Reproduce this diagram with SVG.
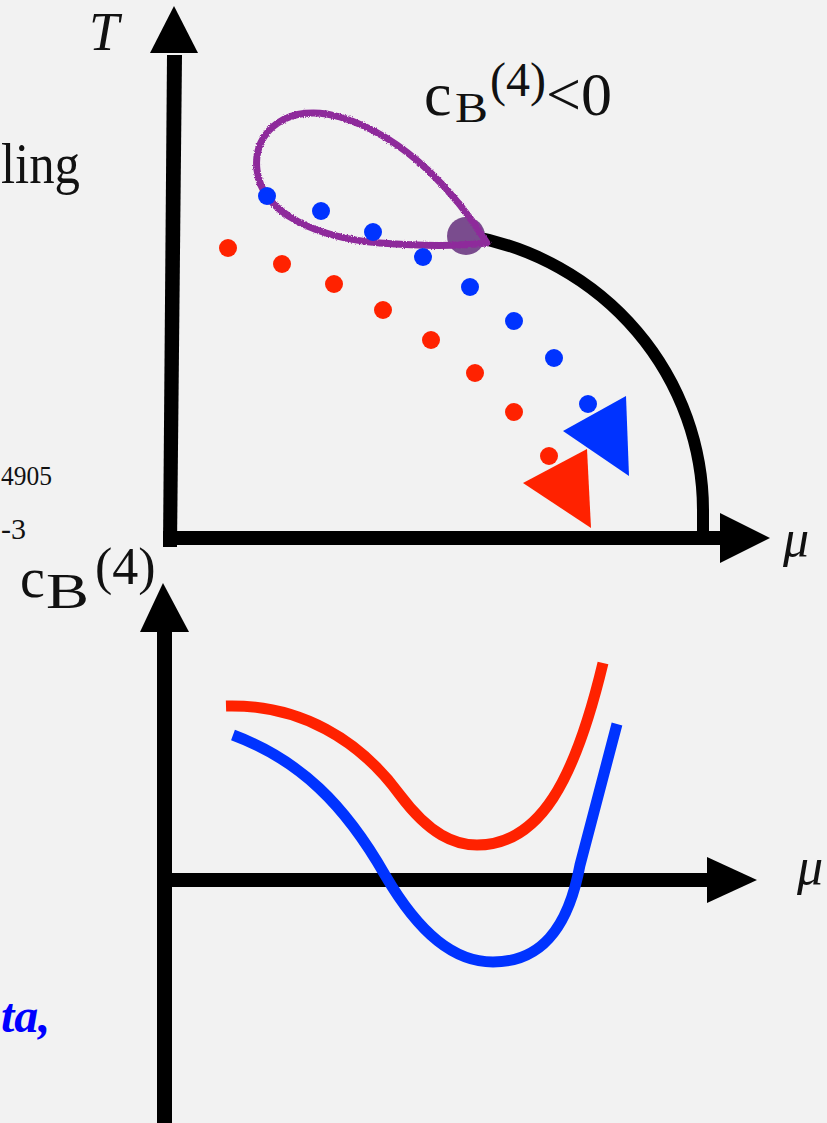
<svg xmlns="http://www.w3.org/2000/svg" width="827" height="1123" viewBox="0 0 827 1123">
  <defs>
    <style>
      .ax { fill: #000; }
      .serif { font-family: "Liberation Serif", "Times New Roman", serif; fill: #111; }
      .it { font-style: italic; }
      .red { fill: #ff2200; }
      .blue { fill: #0033ff; }
      .rc { fill: none; stroke: #ff2200; stroke-width: 11; }
      .bc { fill: none; stroke: #0033ff; stroke-width: 11; }
    </style>
    <filter id="rough" x="-10%" y="-10%" width="120%" height="120%">
      <feTurbulence type="fractalNoise" baseFrequency="0.9" numOctaves="2" seed="3" result="n"/>
      <feDisplacementMap in="SourceGraphic" in2="n" scale="3" xChannelSelector="R" yChannelSelector="G"/>
    </filter>
  </defs>
  <rect x="0" y="0" width="827" height="1123" fill="#f2f2f2"/>

  <!-- left cut-off texts -->
  <g id="left-texts" class="serif">
    <text x="1" y="183" font-size="58" textLength="79" lengthAdjust="spacingAndGlyphs">ling</text>
    <text x="1" y="485" font-size="27" textLength="51" lengthAdjust="spacingAndGlyphs">4905</text>
    <text x="1" y="539" font-size="30">-3</text>
    <text x="1" y="1032" font-size="48" font-weight="bold" font-style="italic" style="fill:#0000ff">ta,</text>
  </g>

  <!-- top phase diagram axes -->
  <g id="top-axes">
    <polygon class="ax" points="167,55 182,55 177,547 163,547"/>
    <polygon class="ax" points="174,6 198,53 150,53"/>
    <rect class="ax" x="163" y="531" width="560" height="14"/>
    <polygon class="ax" points="720,513 770,538 720,563"/>
    <text class="serif it" x="783" y="556" font-size="52">μ</text>
    <text class="serif it" x="89" y="50" font-size="54">T</text>
  </g>

  <!-- phase boundary -->
  <g id="boundary">
    <path d="M 470,236 A 283 279 0 0 1 703,510 L 703,538" fill="none" stroke="#000" stroke-width="12"/>
  </g>

  <!-- critical point -->
  <g id="critical-point">
    <circle cx="466" cy="236" r="19" fill="#7a4c8e"/>
  </g>

  <!-- purple loop -->
  <g id="loop">
    <path d="M 487,243 C 460,200 410,138 340,117 C 290,102 252,130 257,170 C 262,215 320,238 380,243 C 420,246 460,246 487,243 Z" fill="none" stroke="#8e2a9b" stroke-width="7" stroke-linejoin="round" filter="url(#rough)"/>
  </g>

  <!-- trajectories -->
  <g id="blue-dots" class="blue">
    <circle cx="267" cy="196" r="9"/>
    <circle cx="321" cy="211" r="9"/>
    <circle cx="373" cy="232" r="9"/>
    <circle cx="423" cy="257" r="9"/>
    <circle cx="470" cy="287" r="9"/>
    <circle cx="514" cy="321" r="9"/>
    <circle cx="554" cy="358" r="9"/>
    <circle cx="588" cy="404" r="9"/>
  </g>
  <g id="red-dots" class="red">
    <circle cx="228" cy="248" r="9"/>
    <circle cx="282" cy="264" r="9"/>
    <circle cx="334" cy="284" r="9"/>
    <circle cx="383" cy="310" r="9"/>
    <circle cx="431" cy="340" r="9"/>
    <circle cx="475" cy="373" r="9"/>
    <circle cx="514" cy="412" r="9"/>
    <circle cx="549" cy="456" r="9"/>
  </g>
  <g id="blue-triangle"><polygon class="blue" points="563,431 626,396 629,476"/></g>
  <g id="red-triangle"><polygon class="red" points="523,483 587,449 591,528"/></g>

  <!-- top label -->
  <g id="top-label" class="serif">
    <text x="424" y="115" font-size="62">c</text>
    <text x="455" y="122" font-size="42" textLength="33" lengthAdjust="spacingAndGlyphs">B</text>
    <text x="490" y="96" font-size="48">(4)</text>
    <text x="546" y="115" font-size="62">&lt;0</text>
  </g>

  <!-- lower graph axes -->
  <g id="bottom-axes">
    <rect class="ax" x="157" y="628" width="15" height="495"/>
    <polygon class="ax" points="163,583 189,632 140,632"/>
    <rect class="ax" x="165" y="873" width="545" height="14"/>
    <polygon class="ax" points="707,857 757,880 707,903"/>
    <text class="serif it" x="797" y="884" font-size="52">μ</text>
  </g>

  <!-- lower label -->
  <g id="bottom-label" class="serif">
    <text x="20" y="597" font-size="56">c</text>
    <text x="46" y="608" font-size="50" textLength="43" lengthAdjust="spacingAndGlyphs">B</text>
    <text x="95" y="584" font-size="52">(4)</text>
  </g>

  <!-- cB(4) curves -->
  <g id="curves">
    <path class="rc" d="M 226,706 C 300,704 360,740 400,795 C 430,835 455,845 477,845 C 540,845 575,780 603,663"/>
    <path class="bc" d="M 233,735 C 300,760 345,805 385,875 C 420,935 455,962 493,962 C 540,962 568,930 580,865 L 617,724"/>
  </g>
</svg>
